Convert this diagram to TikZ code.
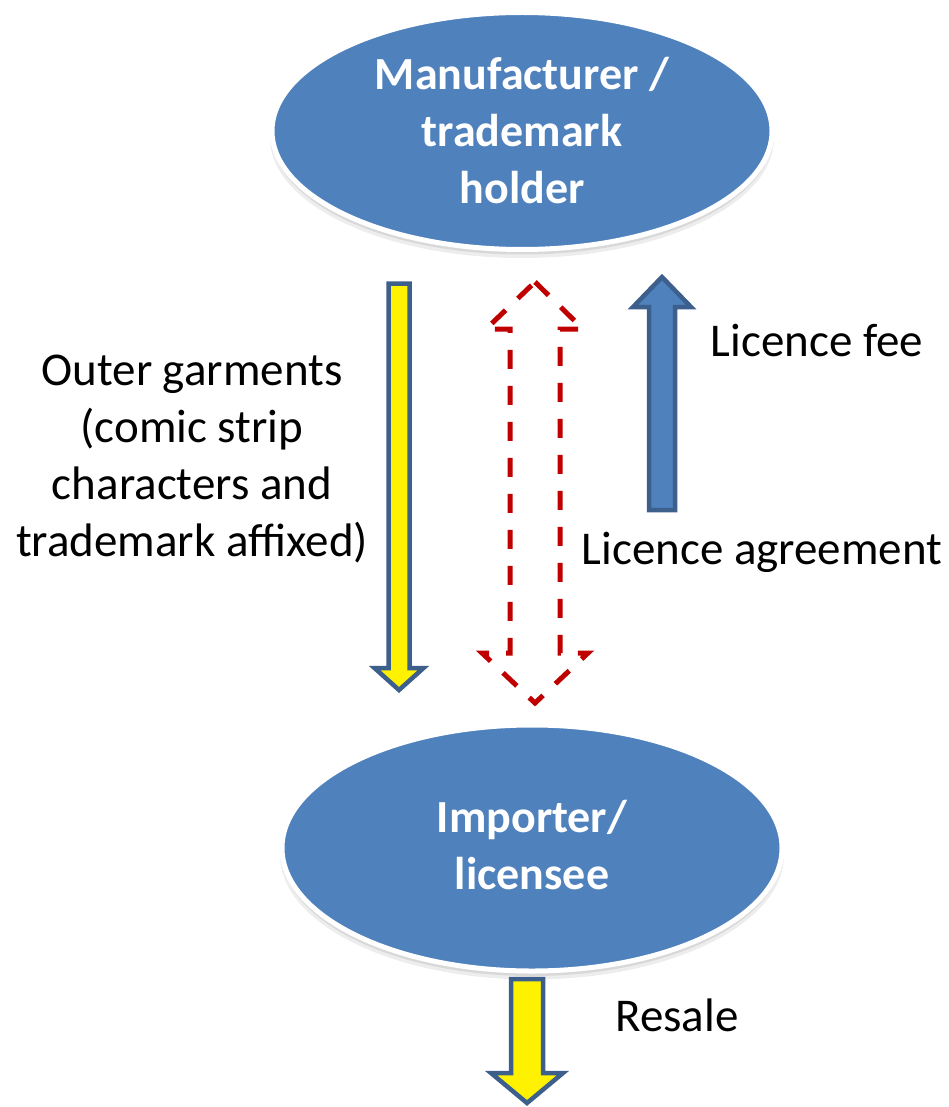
\documentclass[tikz,border=0pt]{standalone}
\usepackage{fontspec}
\setmainfont{Carlito}
\usetikzlibrary{shapes.geometric}
\definecolor{ellblue}{HTML}{4F81BD}
\definecolor{edgeblue}{HTML}{3D5F8C}
\definecolor{darkred}{HTML}{C00000}
\begin{document}
\begin{tikzpicture}[x=1pt,y=-1pt,
  ell/.style={ellipse, fill=ellblue, draw=white, line width=5pt, inner sep=0pt},
  ellshadow/.style={ellipse, fill=black, draw=none, inner sep=0pt},
  elltext/.style={text=white, font=\fontsize{46}{57}\selectfont\bfseries, align=center, inner sep=0pt},
  txt/.style={font=\fontsize{47}{57}\selectfont, align=center, text=black, inner sep=0pt},
  yarrow/.style={fill=yellow, draw=edgeblue, line width=4.5pt, line join=miter},
  barrow/.style={fill=ellblue, draw=edgeblue, line width=4.5pt, line join=miter},
  rarrow/.style={draw=darkred, line width=5pt, dash pattern=on 19pt off 17pt, line join=miter}
]
\useasboundingbox (0,0) rectangle (949,1107);

% shadows
\node[ellshadow, opacity=0.07, minimum width=504pt, minimum height=240pt] (mfrsh1) at (522,138) {};
\node[ellshadow, opacity=0.09, minimum width=500pt, minimum height=237pt] (mfrsh2) at (522,136) {};
\node[ellshadow, opacity=0.07, minimum width=504pt, minimum height=249pt] (impsh1) at (532,855) {};
\node[ellshadow, opacity=0.09, minimum width=500pt, minimum height=246pt] (impsh2) at (532,853) {};

% ellipses
\node[ell, minimum width=500pt, minimum height=237pt] (mfr) at (522,131) {};
\node[elltext] (mfrtext) at (mfr.center) {Manufacturer /\\trademark\\holder};

\node[ell, minimum width=500pt, minimum height=246pt] (imp) at (532,848) {};
\node[elltext] (imptext) at ([yshift=3pt]imp.center) {Importer/\\licensee};

% yellow arrow (outer garments)
\draw[yarrow] (388.5,283.5) -- (409.5,283.5) -- (409.5,668) -- (423.5,668) -- (399,690) -- (374.5,668) -- (388.5,668) -- cycle;

% red dashed double arrow (licence agreement)
\draw[rarrow] (535,282) -- (583,329) -- (560,329) -- (560,653) -- (588,653) -- (535,703) -- (482,653) -- (510,653) -- (510,329) -- (486,329) -- cycle;

% blue arrow (licence fee)
\draw[barrow] (649,510) -- (649,307) -- (633,307) -- (662,277) -- (691,307) -- (675,307) -- (675,510) -- cycle;

% yellow arrow (resale)
\draw[yarrow] (511,979) -- (543,979) -- (543,1073) -- (563,1073) -- (527,1103) -- (491,1073) -- (511,1073) -- cycle;

% labels
\node[txt] (garments) at (192,459) {Outer garments\\(comic strip\\characters and\\trademark affixed)};
\node[txt] (fee) at (817,340) {Licence fee};
\node[txt] (agreement) at (762,552) {Licence agreement};
\node[txt] (resale) at (677,1015) {Resale};
\end{tikzpicture}
\end{document}
